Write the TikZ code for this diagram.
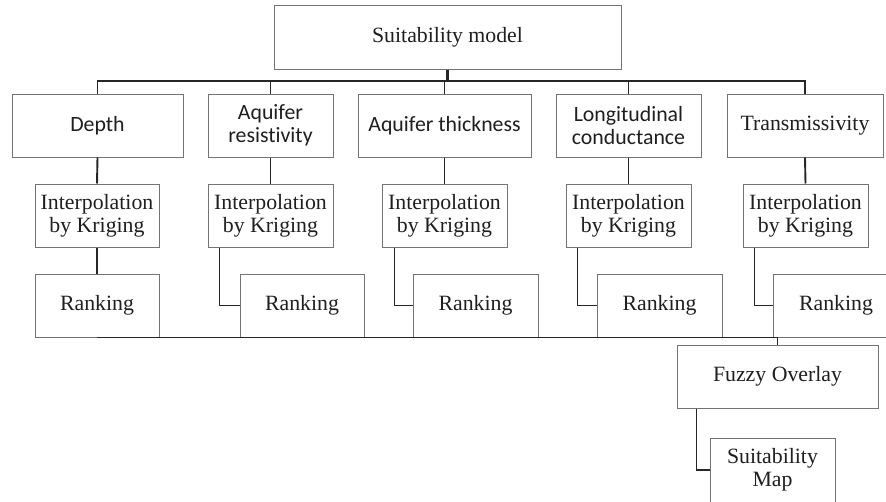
\documentclass[tikz,border=0pt]{standalone}
\usepackage{fontspec}
\setmainfont{Liberation Serif}
\newfontfamily\calfont[Ligatures={NoCommon}]{Carlito}
\begin{document}
\begin{tikzpicture}[x=1pt,y=-1pt,
  box/.style={draw=black!55, line width=1pt, inner sep=0pt, align=center,
    minimum height=63pt, font=\fontsize{21.8}{23}\selectfont, text=black!88},
  sbox/.style={box, font=\calfont\fontsize{21.8}{23.5}\selectfont},
  conn/.style={draw=black!85, line width=1.9pt}]
\clip (0,0) rectangle (886,501);
\fill[white] (0,0) rectangle (886,501);
% top
\node[box, minimum width=347pt, minimum height=64pt] (top) at (447.5,37) {Suitability model};
% level 1
\node[sbox, minimum width=171pt] (depth) at (97.5,125.5) {Depth};
\node[sbox, minimum width=125pt] (ares) at (270.5,125.5) {Aquifer\\resistivity};
\node[sbox, minimum width=173pt] (athk) at (444.5,125.5) {Aquifer thickness};
\node[sbox, minimum width=145pt] (lcon) at (628.5,125.5) {Longitudinal\\conductance};
\node[box, minimum width=156pt] (trans) at (805,125.5) {Transmissivity};
% level 2
\node[box, minimum width=124pt] (i1) at (97,215.5) {Interpolation\\by Kriging};
\node[box, minimum width=125pt] (i2) at (270.5,215.5) {Interpolation\\by Kriging};
\node[box, minimum width=125pt] (i3) at (444.5,215.5) {Interpolation\\by Kriging};
\node[box, minimum width=125pt] (i4) at (628.5,215.5) {Interpolation\\by Kriging};
\node[box, minimum width=125pt] (i5) at (805.5,215.5) {Interpolation\\by Kriging};
% ranking
\node[box, minimum width=124pt] (r1) at (97,305.5) {Ranking};
\node[box, minimum width=124pt] (r2) at (302,305.5) {Ranking};
\node[box, minimum width=125pt] (r3) at (475.5,305.5) {Ranking};
\node[box, minimum width=125pt] (r4) at (659.5,305.5) {Ranking};
\node[box, minimum width=126pt] (r5) at (836,305.5) {Ranking};
% fuzzy and map
\node[box, minimum width=201pt] (fuzzy) at (777.5,376.5) {Fuzzy Overlay};
\node[box, minimum width=125pt, minimum height=64pt] (smap) at (772.5,470) {Suitability\\Map};
% top bus
\coordinate (bus) at (0,81);
\draw[conn, line width=2.6pt] (top.south) -- (top.south |- bus);
\draw[conn] (depth.north) -- (depth.north |- bus) -- (trans.north |- bus) -- (trans.north);
\draw[conn, line width=2.4pt] (ares.north |- bus) -- (top.south |- bus);
\draw[conn] (ares.north) -- (ares.north |- bus);
\draw[conn] (athk.north) -- (athk.north |- bus);
\draw[conn] (lcon.north) -- (lcon.north |- bus);
% level 1 to level 2
\draw[conn] (depth.south) -- (i1.north);
\draw[conn] (ares.south) -- (i2.north);
\draw[conn] (athk.south) -- (i3.north);
\draw[conn] (lcon.south) -- (i4.north);
\draw[conn] (trans.south) -- (i5.north);
% level 2 to ranking
\draw[conn] (i1.south) -- (r1.north);
\draw[conn] ([xshift=12pt]i2.south west) |- (r2.west);
\draw[conn] ([xshift=13pt]i3.south west) |- (r3.west);
\draw[conn] ([xshift=12pt]i4.south west) |- (r4.west);
\draw[conn] ([xshift=12pt]i5.south west) |- (r5.west);
% bottom bus
\coordinate (bbus) at (0,337.5);
\draw[conn] (r1.south |- bbus) -- (fuzzy.north |- bbus) -- (fuzzy.north);
% fuzzy to map
\draw[conn] ([xshift=20pt]fuzzy.south west) |- (smap.west);
\end{tikzpicture}
\end{document}
